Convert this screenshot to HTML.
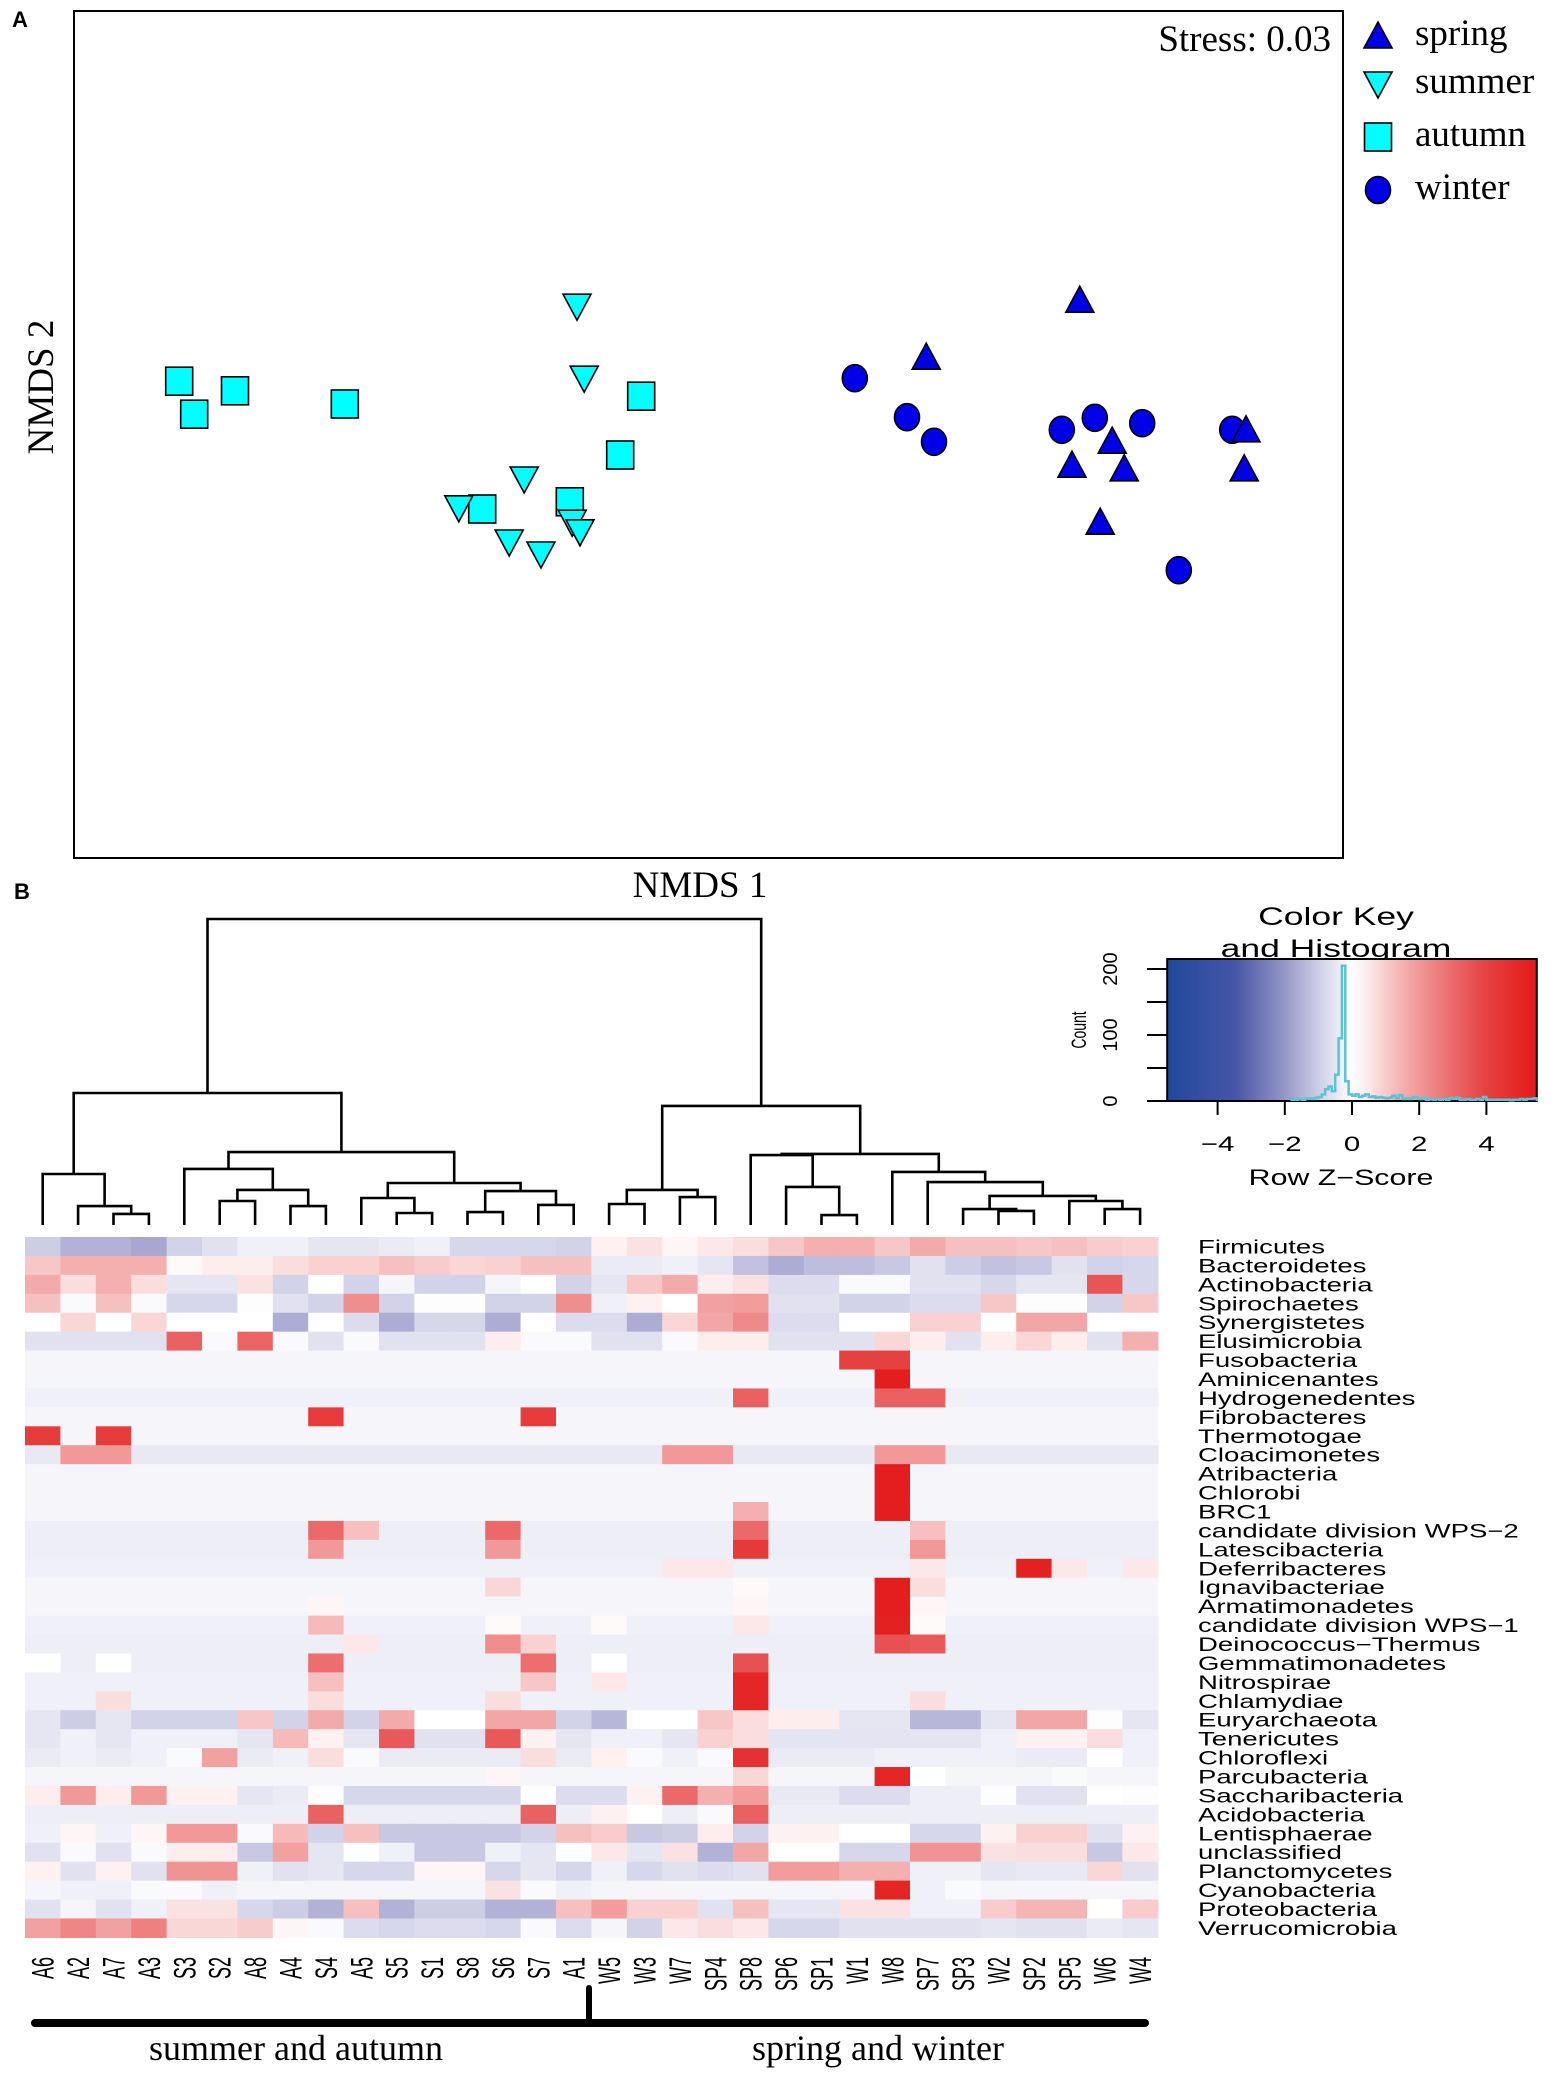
<!DOCTYPE html>
<html><head><meta charset="utf-8"><title>NMDS and heatmap</title>
<style>html,body{margin:0;padding:0;background:#fff}svg{display:block}</style></head>
<body>
<svg id="fig" xmlns="http://www.w3.org/2000/svg" width="1556" height="2082" viewBox="0 0 1556 2082">
<rect x="0" y="0" width="1556" height="2082" fill="#fff"/>
<text x="12" y="27" font-family="Liberation Sans, sans-serif" font-weight="bold" font-size="22">A</text>
<text x="14" y="899" font-family="Liberation Sans, sans-serif" font-weight="bold" font-size="22">B</text>
<rect x="74" y="11" width="1269" height="847" fill="none" stroke="#000" stroke-width="2"/>
<text x="1331" y="51" text-anchor="end" font-family="Liberation Serif, serif" font-size="37">Stress: 0.03</text>
<text x="700" y="897" text-anchor="middle" font-family="Liberation Serif, serif" font-size="37">NMDS 1</text>
<text transform="translate(53,387) rotate(-90)" text-anchor="middle" font-family="Liberation Serif, serif" font-size="37">NMDS 2</text>
<g id="legend"></g>
<g id="points"></g>
<g id="dendro"></g>
<g id="heat"></g>
<g id="rowlab"></g>
<g id="collab"></g>
<g id="key"></g>
<line x1="35" y1="2023" x2="1145" y2="2023" stroke="#000" stroke-width="8" stroke-linecap="round"/>
<line x1="589" y1="1988" x2="589" y2="2023" stroke="#000" stroke-width="6" stroke-linecap="round"/>
<text x="296" y="2060" text-anchor="middle" font-family="Liberation Serif, serif" font-size="36">summer and autumn</text>
<text x="878" y="2060" text-anchor="middle" font-family="Liberation Serif, serif" font-size="36">spring and winter</text>
</svg>
<script>
// ---------- NMDS data ----------
const autumnX=[-0.888,-0.863,-0.795,-0.612,-0.118,-0.153,-0.383,-0.237];
const autumnY=[0.088,0.033,0.072,0.050,0.063,-0.035,-0.125,-0.113];
const summerX=[-0.225,-0.213,-0.313,-0.422,-0.338,-0.285,-0.233,-0.220];
const summerY=[0.213,0.093,-0.075,-0.123,-0.180,-0.200,-0.147,-0.163];
const winterX=[0.238,0.325,0.370,0.583,0.638,0.717,0.778,0.867];
const winterY=[0.093,0.028,-0.013,0.007,0.027,0.018,-0.227,0.007];
const springX=[0.613,0.357,0.667,0.600,0.687,0.647,0.890,0.887];
const springY=[0.223,0.128,-0.012,-0.052,-0.058,-0.147,0.007,-0.058];
const seasons=["spring","summer","autumn","winter"];

// ---------- heatmap data ----------
const colNames=["A6","A2","A7","A3","S3","S2","A8","A4","S4","A5","S5","S1","S8","S6","S7","A1","W5","W3","W7","SP4","SP8","SP6","SP1","W1","W8","SP7","SP3","W2","SP2","SP5","W6","W4"];
const rowNames=["Firmicutes","Bacteroidetes","Actinobacteria","Spirochaetes","Synergistetes","Elusimicrobia","Fusobacteria","Aminicenantes","Hydrogenedentes","Fibrobacteres","Thermotogae","Cloacimonetes","Atribacteria","Chlorobi","BRC1","candidate division WPS\u22122","Latescibacteria","Deferribacteres","Ignavibacteriae","Armatimonadetes","candidate division WPS\u22121","Deinococcus\u2212Thermus","Gemmatimonadetes","Nitrospirae","Chlamydiae","Euryarchaeota","Tenericutes","Chloroflexi","Parcubacteria","Saccharibacteria","Acidobacteria","Lentisphaerae","unclassified","Planctomycetes","Cyanobacteria","Proteobacteria","Verrucomicrobia"];
const zRows=[
[-1.0,-1.5,-1.5,-1.7,-0.9,-0.6,-0.3,-0.3, -0.5,-0.5,-0.4,-0.3,-0.8,-0.8,-0.8,-0.9, 0.3,0.6,0.2,0.5,0.7,1.1,1.5,1.5, 1.1,1.6,1.2,1.2,1.1,1.2,1.0,0.9],
[1.1,1.5,1.5,1.5,0.1,0.4,0.4,0.7, 0.9,0.9,1.2,1.0,0.8,0.9,1.2,1.2, -0.4,-0.4,-0.3,-0.5,-1.2,-1.6,-1.3,-1.3, -1.1,-0.6,-1.0,-1.2,-1.1,-0.6,-0.9,-0.8],
[1.6,0.7,1.5,0.7,-0.5,-0.5,0.6,-0.9, 0.0,-0.9,-0.2,-0.9,-0.9,-0.2,0.0,-0.9, -0.5,1.1,1.6,0.4,0.6,-0.7,-0.7,-0.1, -0.1,-0.6,-0.6,-0.8,-0.5,-0.5,3.5,-0.8],
[1.2,-0.1,1.2,-0.1,-0.8,-0.8,-0.05,-0.6, -0.9,2.2,-0.9,-0.05,-0.05,-0.9,-0.9,2.2, -0.3,0.3,0.0,1.8,1.9,-0.6,-0.6,-0.9, -0.9,-0.7,-0.7,1.1,-0.05,-0.05,-0.9,1.1],
[0.0,0.8,0.0,0.8,0.0,0.0,0.0,-1.6, 0.0,-0.7,-1.6,-0.8,-0.8,-1.6,0.0,-0.7, -0.7,-1.6,0.8,1.7,2.3,-0.7,-0.7,0.0, 0.0,0.9,0.9,0.0,1.7,1.7,0.0,0.0],
[-0.6,-0.6,-0.6,-0.6,3.2,-0.1,3.1,-0.1, -0.6,-0.1,-0.6,-0.6,-0.6,0.4,-0.1,-0.1, -0.6,-0.6,-0.1,0.4,0.4,-0.6,-0.6,-0.6, 0.8,0.4,-0.6,0.4,0.8,0.4,-0.6,1.5],
[-0.2,-0.2,-0.2,-0.2,-0.2,-0.2,-0.2,-0.2, -0.2,-0.2,-0.2,-0.2,-0.2,-0.2,-0.2,-0.2, -0.2,-0.2,-0.2,-0.2,-0.2,-0.2,-0.2,4.0, 4.0,-0.2,-0.2,-0.2,-0.2,-0.2,-0.2,-0.2],
[-0.2,-0.2,-0.2,-0.2,-0.2,-0.2,-0.2,-0.2, -0.2,-0.2,-0.2,-0.2,-0.2,-0.2,-0.2,-0.2, -0.2,-0.2,-0.2,-0.2,-0.2,-0.2,-0.2,-0.2, 5.3,-0.2,-0.2,-0.2,-0.2,-0.2,-0.2,-0.2],
[-0.3,-0.3,-0.3,-0.3,-0.3,-0.3,-0.3,-0.3, -0.3,-0.3,-0.3,-0.3,-0.3,-0.3,-0.3,-0.3, -0.3,-0.3,-0.3,-0.3,3.2,-0.3,-0.3,-0.3, 3.2,3.2,-0.3,-0.3,-0.3,-0.3,-0.3,-0.3],
[-0.2,-0.2,-0.2,-0.2,-0.2,-0.2,-0.2,-0.2, 4.2,-0.2,-0.2,-0.2,-0.2,-0.2,4.2,-0.2, -0.2,-0.2,-0.2,-0.2,-0.2,-0.2,-0.2,-0.2, -0.2,-0.2,-0.2,-0.2,-0.2,-0.2,-0.2,-0.2],
[4.2,-0.2,4.2,-0.2,-0.2,-0.2,-0.2,-0.2, -0.2,-0.2,-0.2,-0.2,-0.2,-0.2,-0.2,-0.2, -0.2,-0.2,-0.2,-0.2,-0.2,-0.2,-0.2,-0.2, -0.2,-0.2,-0.2,-0.2,-0.2,-0.2,-0.2,-0.2],
[-0.45,2.0,2.0,-0.45,-0.45,-0.45,-0.45,-0.45, -0.45,-0.45,-0.45,-0.45,-0.45,-0.45,-0.45,-0.45, -0.45,-0.45,2.0,2.0,-0.45,-0.45,-0.45,-0.45, 2.0,2.0,-0.45,-0.45,-0.45,-0.45,-0.45,-0.45],
[-0.2,-0.2,-0.2,-0.2,-0.2,-0.2,-0.2,-0.2, -0.2,-0.2,-0.2,-0.2,-0.2,-0.2,-0.2,-0.2, -0.2,-0.2,-0.2,-0.2,-0.2,-0.2,-0.2,-0.2, 5.3,-0.2,-0.2,-0.2,-0.2,-0.2,-0.2,-0.2],
[-0.2,-0.2,-0.2,-0.2,-0.2,-0.2,-0.2,-0.2, -0.2,-0.2,-0.2,-0.2,-0.2,-0.2,-0.2,-0.2, -0.2,-0.2,-0.2,-0.2,-0.2,-0.2,-0.2,-0.2, 5.3,-0.2,-0.2,-0.2,-0.2,-0.2,-0.2,-0.2],
[-0.2,-0.2,-0.2,-0.2,-0.2,-0.2,-0.2,-0.2, -0.2,-0.2,-0.2,-0.2,-0.2,-0.2,-0.2,-0.2, -0.2,-0.2,-0.2,-0.2,1.5,-0.2,-0.2,-0.2, 5.3,-0.2,-0.2,-0.2,-0.2,-0.2,-0.2,-0.2],
[-0.35,-0.35,-0.35,-0.35,-0.35,-0.35,-0.35,-0.35, 3.0,1.2,-0.35,-0.35,-0.35,3.0,-0.35,-0.35, -0.35,-0.35,-0.35,-0.35,3.0,-0.35,-0.35,-0.35, -0.35,1.2,-0.35,-0.35,-0.35,-0.35,-0.35,-0.35],
[-0.35,-0.35,-0.35,-0.35,-0.35,-0.35,-0.35,-0.35, 2.0,-0.35,-0.35,-0.35,-0.35,2.0,-0.35,-0.35, -0.35,-0.35,-0.35,-0.35,4.3,-0.35,-0.35,-0.35, -0.35,2.0,-0.35,-0.35,-0.35,-0.35,-0.35,-0.35],
[-0.3,-0.3,-0.3,-0.3,-0.3,-0.3,-0.3,-0.3, -0.3,-0.3,-0.3,-0.3,-0.3,-0.3,-0.3,-0.3, -0.3,-0.3,0.5,0.5,-0.3,-0.3,-0.3,-0.3, -0.3,0.5,-0.3,-0.3,5.2,0.5,-0.3,0.5],
[-0.2,-0.2,-0.2,-0.2,-0.2,-0.2,-0.2,-0.2, -0.2,-0.2,-0.2,-0.2,-0.2,0.8,-0.2,-0.2, -0.2,-0.2,-0.2,-0.2,0.1,-0.2,-0.2,-0.2, 5.3,0.7,-0.2,-0.2,-0.2,-0.2,-0.2,-0.2],
[-0.2,-0.2,-0.2,-0.2,-0.2,-0.2,-0.2,-0.2, 0.2,-0.2,-0.2,-0.2,-0.2,-0.2,-0.2,-0.2, -0.2,-0.2,-0.2,-0.2,0.2,-0.2,-0.2,-0.2, 5.3,0.2,-0.2,-0.2,-0.2,-0.2,-0.2,-0.2],
[-0.3,-0.3,-0.3,-0.3,-0.3,-0.3,-0.3,-0.3, 1.3,-0.3,-0.3,-0.3,-0.3,0.1,-0.3,-0.3, 0.1,-0.3,-0.3,-0.3,0.5,-0.3,-0.3,-0.3, 5.2,0.1,-0.3,-0.3,-0.3,-0.3,-0.3,-0.3],
[-0.35,-0.35,-0.35,-0.35,-0.35,-0.35,-0.35,-0.35, -0.35,0.5,-0.35,-0.35,-0.35,2.2,0.9,-0.35, -0.35,-0.35,-0.35,-0.35,-0.35,-0.35,-0.35,-0.35, 3.6,3.4,-0.35,-0.35,-0.35,-0.35,-0.35,-0.35],
[0.0,-0.35,0.0,-0.35,-0.35,-0.35,-0.35,-0.35, 2.9,-0.35,-0.35,-0.35,-0.35,-0.35,2.9,-0.35, 0.0,-0.35,-0.35,-0.35,3.6,-0.35,-0.35,-0.35, -0.35,-0.35,-0.35,-0.35,-0.35,-0.35,-0.35,-0.35],
[-0.3,-0.3,-0.3,-0.3,-0.3,-0.3,-0.3,-0.3, 1.2,-0.3,-0.3,-0.3,-0.3,-0.3,1.1,-0.3, 0.5,-0.3,-0.3,-0.3,5.0,-0.3,-0.3,-0.3, -0.3,-0.3,-0.3,-0.3,-0.3,-0.3,-0.3,-0.3],
[-0.3,-0.3,0.7,-0.3,-0.3,-0.3,-0.3,-0.3, 0.7,-0.3,-0.3,-0.3,-0.3,0.7,-0.3,-0.3, -0.3,-0.3,-0.3,-0.3,5.0,-0.3,-0.3,-0.3, -0.3,0.7,-0.3,-0.3,-0.3,-0.3,-0.3,-0.3],
[-0.5,-1.0,-0.5,-0.9,-0.9,-0.9,1.1,-0.9, 1.6,-0.9,1.6,0.0,0.0,1.7,1.7,-0.9, -1.4,0.0,0.0,1.1,0.7,0.4,0.4,-0.5, -0.5,-1.4,-1.4,-0.5,1.7,1.7,-0.05,-0.5],
[-0.5,-0.3,-0.5,-0.3,-0.3,-0.3,-0.5,1.3, 0.3,-0.5,3.4,-0.6,-0.6,3.4,0.3,-0.5, -0.3,-0.3,-0.5,0.9,0.7,-0.55,-0.55,-0.55, -0.55,-0.55,-0.55,-0.3,0.3,0.3,0.7,-0.3],
[-0.4,-0.3,-0.4,-0.3,-0.1,1.8,-0.4,-0.3, 0.7,-0.1,-0.4,-0.4,-0.4,-0.4,0.7,-0.4, 0.3,-0.1,-0.3,-0.1,4.6,-0.4,-0.4,-0.4, -0.3,-0.3,-0.3,-0.3,-0.4,-0.4,0.0,-0.3],
[-0.2,-0.2,-0.2,-0.2,-0.2,-0.2,-0.2,-0.2, -0.2,-0.2,-0.2,-0.2,-0.2,0.2,-0.2,-0.2, -0.2,-0.2,-0.2,-0.2,0.8,-0.2,-0.2,-0.2, 5.0,0.0,-0.2,-0.2,-0.2,-0.1,-0.2,-0.2],
[0.4,2.0,0.4,2.0,0.3,0.3,-0.5,-0.4, -0.05,-0.8,-0.8,-0.8,-0.8,-0.8,0.0,-0.7, -0.7,0.3,3.0,1.5,1.9,-0.45,-0.45,-0.7, -0.7,-0.35,-0.35,-0.05,-0.6,-0.6,0.0,-0.05],
[-0.35,-0.35,-0.35,-0.35,-0.35,-0.35,-0.35,-0.35, 3.2,-0.35,-0.35,-0.35,-0.35,-0.35,3.2,-0.35, 0.3,0.0,-0.35,-0.1,3.2,-0.35,-0.35,-0.35, -0.35,-0.35,-0.35,-0.35,-0.35,-0.35,-0.35,-0.35],
[-0.3,0.2,-0.3,0.2,2.0,2.0,-0.1,1.3, -0.9,1.2,-1.1,-1.1,-1.1,-1.1,-0.9,1.2, 1.0,-1.1,-1.0,0.4,-0.9,0.3,0.3,0.0, 0.0,-0.8,-0.8,0.3,0.9,0.9,-0.6,0.3],
[-0.6,-0.1,-0.6,-0.1,0.4,0.4,-1.1,1.8, -0.5,0.0,-0.3,-1.1,-1.1,-0.3,-0.5,0.0, 0.5,-0.5,0.6,-1.5,1.7,0.0,0.0,-0.8, -0.8,2.1,2.1,0.6,0.7,0.7,-1.1,0.5],
[0.3,-0.6,0.3,-0.6,2.1,2.1,-0.3,-0.6, -0.5,-0.8,-0.8,0.2,0.2,-0.8,-0.5,-0.8, -0.3,-0.8,-0.6,-0.7,-0.6,1.9,1.9,1.5, 1.5,-0.3,-0.3,-0.5,-0.45,-0.45,0.8,-0.6],
[-0.2,-0.3,-0.3,-0.1,-0.1,-0.3,-0.2,-0.2, -0.2,-0.2,-0.2,-0.2,-0.2,0.6,-0.1,-0.3, -0.2,-0.2,-0.2,-0.2,-0.2,-0.2,-0.2,-0.2, 5.1,-0.3,-0.1,-0.2,-0.2,-0.2,-0.2,-0.2],
[-0.6,-0.2,-0.6,-0.3,0.6,0.6,-0.8,-1.0, -1.5,1.2,-1.5,-1.0,-1.0,-1.5,-1.5,1.2, 1.9,0.9,0.9,-0.6,1.2,-0.5,-0.5,0.6, 0.6,-0.3,-0.3,1.0,1.4,1.4,0.0,1.0],
[1.8,2.4,1.8,2.5,0.8,0.8,1.0,0.2, -0.1,-0.7,-0.8,-0.7,-0.7,-0.8,-0.1,-0.7, -0.2,-0.9,0.5,0.7,0.5,-0.8,-0.8,-0.6, -0.6,-0.6,-0.6,-0.5,-0.6,-0.6,-0.4,-0.5]
];
// dendrogram: [mergeHeight, left, right]; leaves are column indices
const dendroTree=[102,
  [44,[17,0,[6.3,1,[3.7,2,3]]],
      [24.3,[18.7,4,[11.7,[8,5,6],[6.3,7,8]]],
            [14,[9,9,[4,10,11]],[11.3,[4.3,12,13],[6.7,14,15]]]]],
  [39.7,[11.7,[7,16,17],[9.3,18,19]],
        [23.7,[23.3,20,[12.7,21,[3.3,22,23]]],
              [17.7,24,[14.3,25,[9.7,[5.3,26,[4.7,27,28]],[8,29,[5.3,30,31]]]]]]]];
// histogram of z-scores
const histStart=-1.8, histBin=0.1;
const histCounts=[2,2,3,2,3,4,3,5,6,10,18,22,15, 40,95,205,30,10,8,
 10,6,8,10,6,7,5,6,5,4,5,8,4,9,3,4,3,6,4,3,5,2,3,2,3,2,3,2,4,3,5,2,2,3,2,2,3,2,6,2,2,2,2,2,2,2,1,2,2,3,2,3,3,4];
const keyTicks=[-4,-2,0,2,4];
const countTicks=[0,50,100,150,200];
const countLabels=[0,100,200];

const NS="http://www.w3.org/2000/svg";
function el(tag,parent){const e=document.createElementNS(NS,tag);parent.appendChild(e);return e;}

// ---------- NMDS scales ----------
const sx=v=>712+v*600, sy=v=>434-v*600;
const pts=document.getElementById('points');
function marker(kind,cx,cy,parent){
  let e;
  if(kind==="square"){e=el('rect',parent);e.setAttribute('x',cx-13.5);e.setAttribute('y',cy-14);e.setAttribute('width',27);e.setAttribute('height',28);e.setAttribute('fill','#00ffff');}
  else if(kind==="circle"){e=el('ellipse',parent);e.setAttribute('cx',cx);e.setAttribute('cy',cy);e.setAttribute('rx',12.5);e.setAttribute('ry',13.5);e.setAttribute('fill','#0000e6');}
  else if(kind==="up"){e=el('polygon',parent);e.setAttribute('points',`${cx-14},${cy+12} ${cx+14},${cy+12} ${cx},${cy-14}`);e.setAttribute('fill','#0000e6');}
  else {e=el('polygon',parent);e.setAttribute('points',`${cx-14},${cy-12} ${cx+14},${cy-12} ${cx},${cy+14}`);e.setAttribute('fill','#00ffff');}
  e.setAttribute('stroke','#000');e.setAttribute('stroke-width','1.6');
  return e;
}
const groups=[[autumnX,autumnY,"square","autumn"],[summerX,summerY,"down","summer"],[winterX,winterY,"circle","winter"],[springX,springY,"up","spring"]];
groups.forEach(g=>{g[0].forEach((x,i)=>{
  const m=marker(g[2],sx(x),sy(g[1][i]),pts);
  
  
});});
// legend
const leg=document.getElementById('legend');
const legKinds={spring:"up",summer:"down",autumn:"square",winter:"circle"};
const legY=[36,84,137,190];
seasons.forEach((s,i)=>{
  const m=marker(legKinds[s],1378,legY[i],leg);
  
  
  const t=el('text',leg);t.setAttribute('x',1415);t.setAttribute('y',legY[i]+9);
  t.setAttribute('font-family','Liberation Serif, serif');t.setAttribute('font-size','37');t.textContent=s;
  
  
});

// ---------- color scale ----------
const stops=[[-5.5,[31,73,157]],[-3.5,[70,85,165]],[-2,[150,150,200]],[-1,[205,205,230]],[-0.3,[240,240,248]],[0,[255,255,255]],[0.5,[252,232,232]],[1.5,[244,175,175]],[3,[235,105,105]],[4,[230,65,65]],[5.5,[228,25,25]]];
function zColor(z){
  if(z<=stops[0][0])return `rgb(${stops[0][1]})`;
  for(let i=1;i<stops.length;i++){if(z<=stops[i][0]){const a=stops[i-1],b=stops[i],t=(z-a[0])/(b[0]-a[0]);
    return 'rgb('+a[1].map((c,k)=>Math.round(c+(b[1][k]-c)*t)).join(',')+')';}}
  return `rgb(${stops[stops.length-1][1]})`;
}

// ---------- heatmap ----------
const hx0=25,cw=35.4,hy0=1237,rh=18.93;
const colX=i=>hx0+cw*i, rowY=r=>hy0+rh*r;
const heat=document.getElementById('heat');
zRows.forEach((row,r)=>{row.forEach((z,c)=>{
  const e=el('rect',heat);
  e.setAttribute('x',colX(c).toFixed(2));e.setAttribute('y',rowY(r).toFixed(2));
  e.setAttribute('width',(cw+0.6).toFixed(2));e.setAttribute('height',(rh+0.6).toFixed(2));
  e.setAttribute('fill',zColor(z));
  
  
});});
const rl=document.getElementById('rowlab');
rowNames.forEach((n,r)=>{
  const t=el('text',rl);
  t.setAttribute('transform',`translate(1198,${(rowY(r)+rh/2+7).toFixed(1)}) scale(1.45,1)`);
  t.setAttribute('font-family','Liberation Sans, sans-serif');t.setAttribute('font-size','19');t.textContent=n;
  
  
});
const cl=document.getElementById('collab');
colNames.forEach((n,c)=>{
  const t=el('text',cl);
  const cx=colX(c)+cw/2;
  t.setAttribute('transform',`translate(${(cx+11).toFixed(1)},1957) rotate(-90) scale(1,1.75)`);
  t.setAttribute('text-anchor','end');
  t.setAttribute('font-family','Liberation Sans, sans-serif');t.setAttribute('font-size','18');t.textContent=n;
  
  
});

// ---------- dendrogram ----------
const dg=document.getElementById('dendro');
const dy=h=>1225-h*3;
function drawNode(node){
  if(typeof node==="number")return {x:colX(node)+cw/2,h:0};
  const L=drawNode(node[1]),R=drawNode(node[2]);
  const y=dy(node[0]);
  const p=el('path',dg);
  p.setAttribute('d',`M${L.x.toFixed(1)},${dy(L.h).toFixed(1)}V${y.toFixed(1)}H${R.x.toFixed(1)}V${dy(R.h).toFixed(1)}`);
  p.setAttribute('fill','none');p.setAttribute('stroke','#000');p.setAttribute('stroke-width','2.6');
  
  
  return {x:(L.x+R.x)/2,h:node[0]};
}
drawNode(dendroTree);

// ---------- color key ----------
const key=document.getElementById('key');
const kx=z=>1352+z*33.6, ky=c=>1101-c*0.66;
const defs=el('defs',key);
const grad=el('linearGradient',defs);grad.setAttribute('id','kg');
stops.forEach(s=>{const st=el('stop',grad);st.setAttribute('offset',((s[0]+5.5)/11).toFixed(4));st.setAttribute('stop-color',`rgb(${s[1]})`);});
const kr=el('rect',key);kr.setAttribute('x',kx(-5.5));kr.setAttribute('y',959);kr.setAttribute('width',kx(5.5)-kx(-5.5));kr.setAttribute('height',142);
kr.setAttribute('fill','url(#kg)');kr.setAttribute('stroke','#000');kr.setAttribute('stroke-width','2');


let d=`M${kx(histStart)},${ky(0)}`;
histCounts.forEach((c,i)=>{const x0=kx(histStart+i*histBin),x1=kx(histStart+(i+1)*histBin);d+=`L${x0.toFixed(1)},${ky(c).toFixed(1)}L${x1.toFixed(1)},${ky(c).toFixed(1)}`;});
d+=`L${kx(histStart+histCounts.length*histBin).toFixed(1)},${ky(0)}`;
const hp=el('path',key);hp.setAttribute('d',d);hp.setAttribute('fill','none');hp.setAttribute('stroke','#5bc3d3');hp.setAttribute('stroke-width','2.5');


keyTicks.forEach(v=>{
  const l=el('line',key);l.setAttribute('x1',kx(v));l.setAttribute('x2',kx(v));l.setAttribute('y1',1101);l.setAttribute('y2',1115);l.setAttribute('stroke','#000');l.setAttribute('stroke-width','2');
  
  
  const t=el('text',key);t.setAttribute('transform',`translate(${kx(v)},1151) scale(1.4,1)`);t.setAttribute('text-anchor','middle');
  t.setAttribute('font-family','Liberation Sans, sans-serif');t.setAttribute('font-size','21');t.textContent=(v<0?'\u2212'+(-v):String(v));
  
  
});
countTicks.forEach(v=>{
  const l=el('line',key);l.setAttribute('x1',1147);l.setAttribute('x2',kx(-5.5));l.setAttribute('y1',ky(v));l.setAttribute('y2',ky(v));l.setAttribute('stroke','#000');l.setAttribute('stroke-width','2');
  
  
});
countLabels.forEach(v=>{
  const t=el('text',key);t.setAttribute('transform',`translate(1117,${ky(v)}) rotate(-90)`);t.setAttribute('text-anchor','middle');
  t.setAttribute('font-family','Liberation Sans, sans-serif');t.setAttribute('font-size','20');t.textContent=String(v);
  
  
});
const ct=el('text',key);ct.setAttribute('transform','translate(1086,1030) rotate(-90) scale(1,1.5)');ct.setAttribute('text-anchor','middle');
ct.setAttribute('font-family','Liberation Sans, sans-serif');ct.setAttribute('font-size','14');ct.textContent='Count';


const tt1=el('text',key);tt1.setAttribute('transform','translate(1336,925) scale(1.42,1)');tt1.setAttribute('text-anchor','middle');
tt1.setAttribute('font-family','Liberation Sans, sans-serif');tt1.setAttribute('font-size','25');tt1.textContent='Color Key';


const tt2=el('text',key);tt2.setAttribute('transform','translate(1336,957) scale(1.42,1)');tt2.setAttribute('text-anchor','middle');
tt2.setAttribute('font-family','Liberation Sans, sans-serif');tt2.setAttribute('font-size','25');tt2.textContent='and Histogram';


key.appendChild(kr);key.appendChild(hp);
const xt=el('text',key);xt.setAttribute('transform','translate(1341,1185) scale(1.38,1)');xt.setAttribute('text-anchor','middle');
xt.setAttribute('font-family','Liberation Sans, sans-serif');xt.setAttribute('font-size','22');xt.textContent='Row Z\u2212Score';


</script>
</body></html>
